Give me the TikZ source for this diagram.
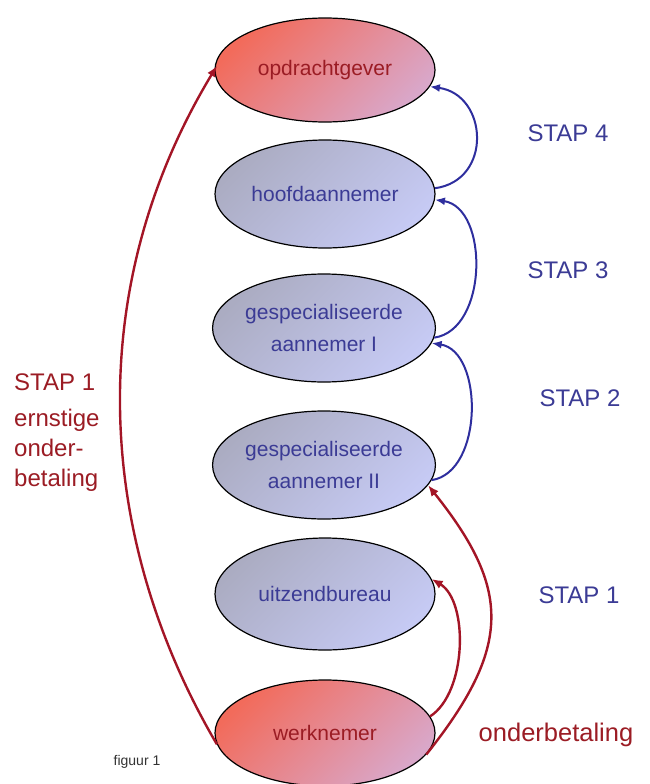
\documentclass[tikz,border=0pt]{standalone}
\usepackage{fontspec}
\setmainfont{Liberation Sans}
\usetikzlibrary{shapes.geometric,arrows.meta}
\definecolor{roodtekst}{HTML}{9B1C24}
\definecolor{roodpijl}{HTML}{A31526}
\definecolor{blauwtekst}{HTML}{3B3B95}
\definecolor{blauwpijl}{HTML}{2E2E9E}
\definecolor{zalm}{HTML}{F26B5B}
\definecolor{roze}{HTML}{D9A7C9}
\definecolor{grijsblauw}{HTML}{ABACC2}
\definecolor{lila}{HTML}{C6CAF4}
\begin{document}
\begin{tikzpicture}[x=1pt,y=-1pt,
                        partij/.style={shape=ellipse,draw,line width=1.2pt,minimum width=220pt,minimum height=108pt,inner sep=0pt,align=center,font=\fontsize{21}{32}\selectfont},
                        rood/.style={partij,top color=zalm,bottom color=roze,shading angle=45,text=roodtekst},
                        blauw/.style={partij,top color=grijsblauw,bottom color=lila,shading angle=45,text=blauwtekst},
                        roodlijn/.style={draw=roodpijl,line width=2.4pt,-{Latex[length=11pt,width=9pt]}},
                        blauwlijn/.style={draw=blauwpijl,line width=2pt,-{Latex[length=10pt,width=8pt]}},
                        staplabel/.style={font=\fontsize{24}{28}\selectfont}
                        ]
                        \useasboundingbox (0,0) rectangle (649,784);
                        %Partijen in de keten
                        \node [rood,minimum height=104pt] (opdracht) at (325,70) {opdrachtgever};
                        \node [blauw] (hoofd) at (325,194) {hoofdaannemer};
                        \node [blauw] (specI) at (324,328) {gespecialiseerde\\aannemer I};
                        \node [blauw] (specII) at (324,465) {gespecialiseerde\\aannemer II};
                        \node [blauw,minimum height=112pt] (uitzend) at (325,594) {uitzendbureau};
                        \node [rood,minimum height=106pt] (werknemer) at (325,733) {werknemer};
                        %Stappen omhoog in de keten
                        \draw [blauwlijn] (hoofd.3) .. controls +(58,-8) and +(58,8) .. (opdracht.-9);
                        \draw [blauwlijn] (specI.-5) .. controls +(54,-8) and +(54,8) .. (hoofd.-3);
                        \draw [blauwlijn] (specII.-8) .. controls +(52,-8) and +(52,8) .. (specI.-8);
                        \draw [roodlijn] (werknemer.9) .. controls +(37,-24) and +(37,22) .. (uitzend.8);
                        \draw [roodlijn] (werknemer.-12) .. controls +(86,-108) and +(83,104) .. (specII.-11);
                        \draw [roodlijn,shorten >=-5pt] (werknemer.-174) .. controls +(-121,-206) and +(-133,220) .. (opdracht.180);
                        %Labels
                        \node [staplabel,text=blauwtekst] (stap4) at (568,133) {STAP 4};
                        \node [staplabel,text=blauwtekst] (stap3) at (568,270) {STAP 3};
                        \node [staplabel,text=blauwtekst] (stap2) at (580,398) {STAP 2};
                        \node [staplabel,text=blauwtekst] (stap1) at (579,595) {STAP 1};
                        \node [font=\fontsize{25.5}{28}\selectfont,text=roodtekst] (onder) at (556,735) {onderbetaling};
                        \node [staplabel,text=roodtekst,anchor=west,inner sep=0pt] (stap1links) at (14,382) {STAP 1};
                        \node [font=\fontsize{24}{30}\selectfont,text=roodtekst,anchor=west,align=left,inner sep=0pt] (ernstig) at (14,450) {ernstige\\onder-\\betaling};
                        \node [font=\fontsize{14}{16}\selectfont,text=black!80] (figuur) at (137,762) {figuur 1};
                \end{tikzpicture}
\end{document}
